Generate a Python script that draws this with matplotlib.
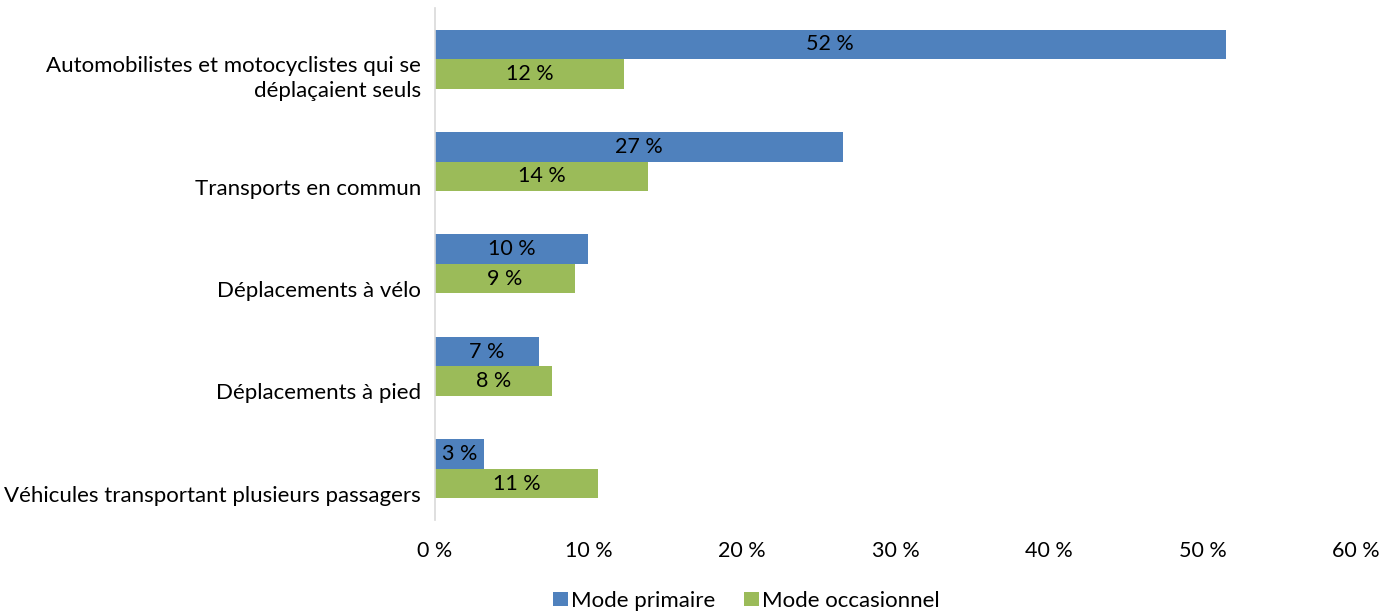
import matplotlib.pyplot as plt
from matplotlib.ticker import FuncFormatter

categories = [
    "Automobilistes et motocyclistes qui se\ndéplaçaient seuls",
    "Transports en commun",
    "Déplacements à vélo",
    "Déplacements à pied",
    "Véhicules transportant plusieurs passagers",
]
primaire = [51.5, 26.6, 10.0, 6.8, 3.2]
occasionnel = [12.3, 13.9, 9.1, 7.6, 10.6]
series_names = ["Mode primaire", "Mode occasionnel"]
xticks = [0, 10, 20, 30, 40, 50, 60]

BLUE = "#4F81BD"
GREEN = "#9BBB59"

plt.rcParams["font.family"] = ["Lato", "DejaVu Sans"]

fig = plt.figure(figsize=(13.8, 6.13), dpi=100)
ax = fig.add_axes([0.3152, 0.1517, 0.6674, 0.8353])

bar_h = 0.288
ypos = list(range(len(categories)))
y_blue = [y - bar_h / 2 for y in ypos]
y_green = [y + bar_h / 2 for y in ypos]

b1 = ax.barh(y_blue, primaire, height=bar_h, color=BLUE, label=series_names[0])
b2 = ax.barh(y_green, occasionnel, height=bar_h, color=GREEN, label=series_names[1])

for bars, vals in ((b1, primaire), (b2, occasionnel)):
    for rect, v in zip(bars, vals):
        ax.text(v / 2, rect.get_y() + rect.get_height() / 2, f"{v:.0f} %",
                ha="center", va="center", fontsize=15.5, color="black")

ax.set_xlim(0, 60)
ax.set_ylim(len(categories) - 0.5, -0.5)
ax.set_xticks(xticks)
ax.xaxis.set_major_formatter(FuncFormatter(lambda v, _: f"{v:.0f} %"))
ax.tick_params(axis="x", length=0, labelsize=15.5, pad=15)

# category labels sit below the centre of each bar pair; the last line of a
# wrapped label shares the baseline offset of the single-line ones
label_offsets = [0.14, 0.245, 0.245, 0.245, 0.245]
ax.set_yticks([y + o for y, o in zip(ypos, label_offsets)])
ax.set_yticklabels(categories, fontsize=16, linespacing=1.35)
ax.tick_params(axis="y", length=0, pad=10)

for side in ("top", "right", "bottom"):
    ax.spines[side].set_visible(False)
ax.spines["left"].set_color("#D9D9D9")
ax.spines["left"].set_linewidth(1.2)

leg = fig.legend(handles=[b1, b2], labels=series_names, loc="center",
                 bbox_to_anchor=(0.541, 0.02), ncol=2, frameon=False,
                 fontsize=16, handlelength=0.65, handleheight=0.65,
                 handletextpad=0.15, columnspacing=1.3)

fig.savefig("out.png", dpi=100, facecolor="white")
